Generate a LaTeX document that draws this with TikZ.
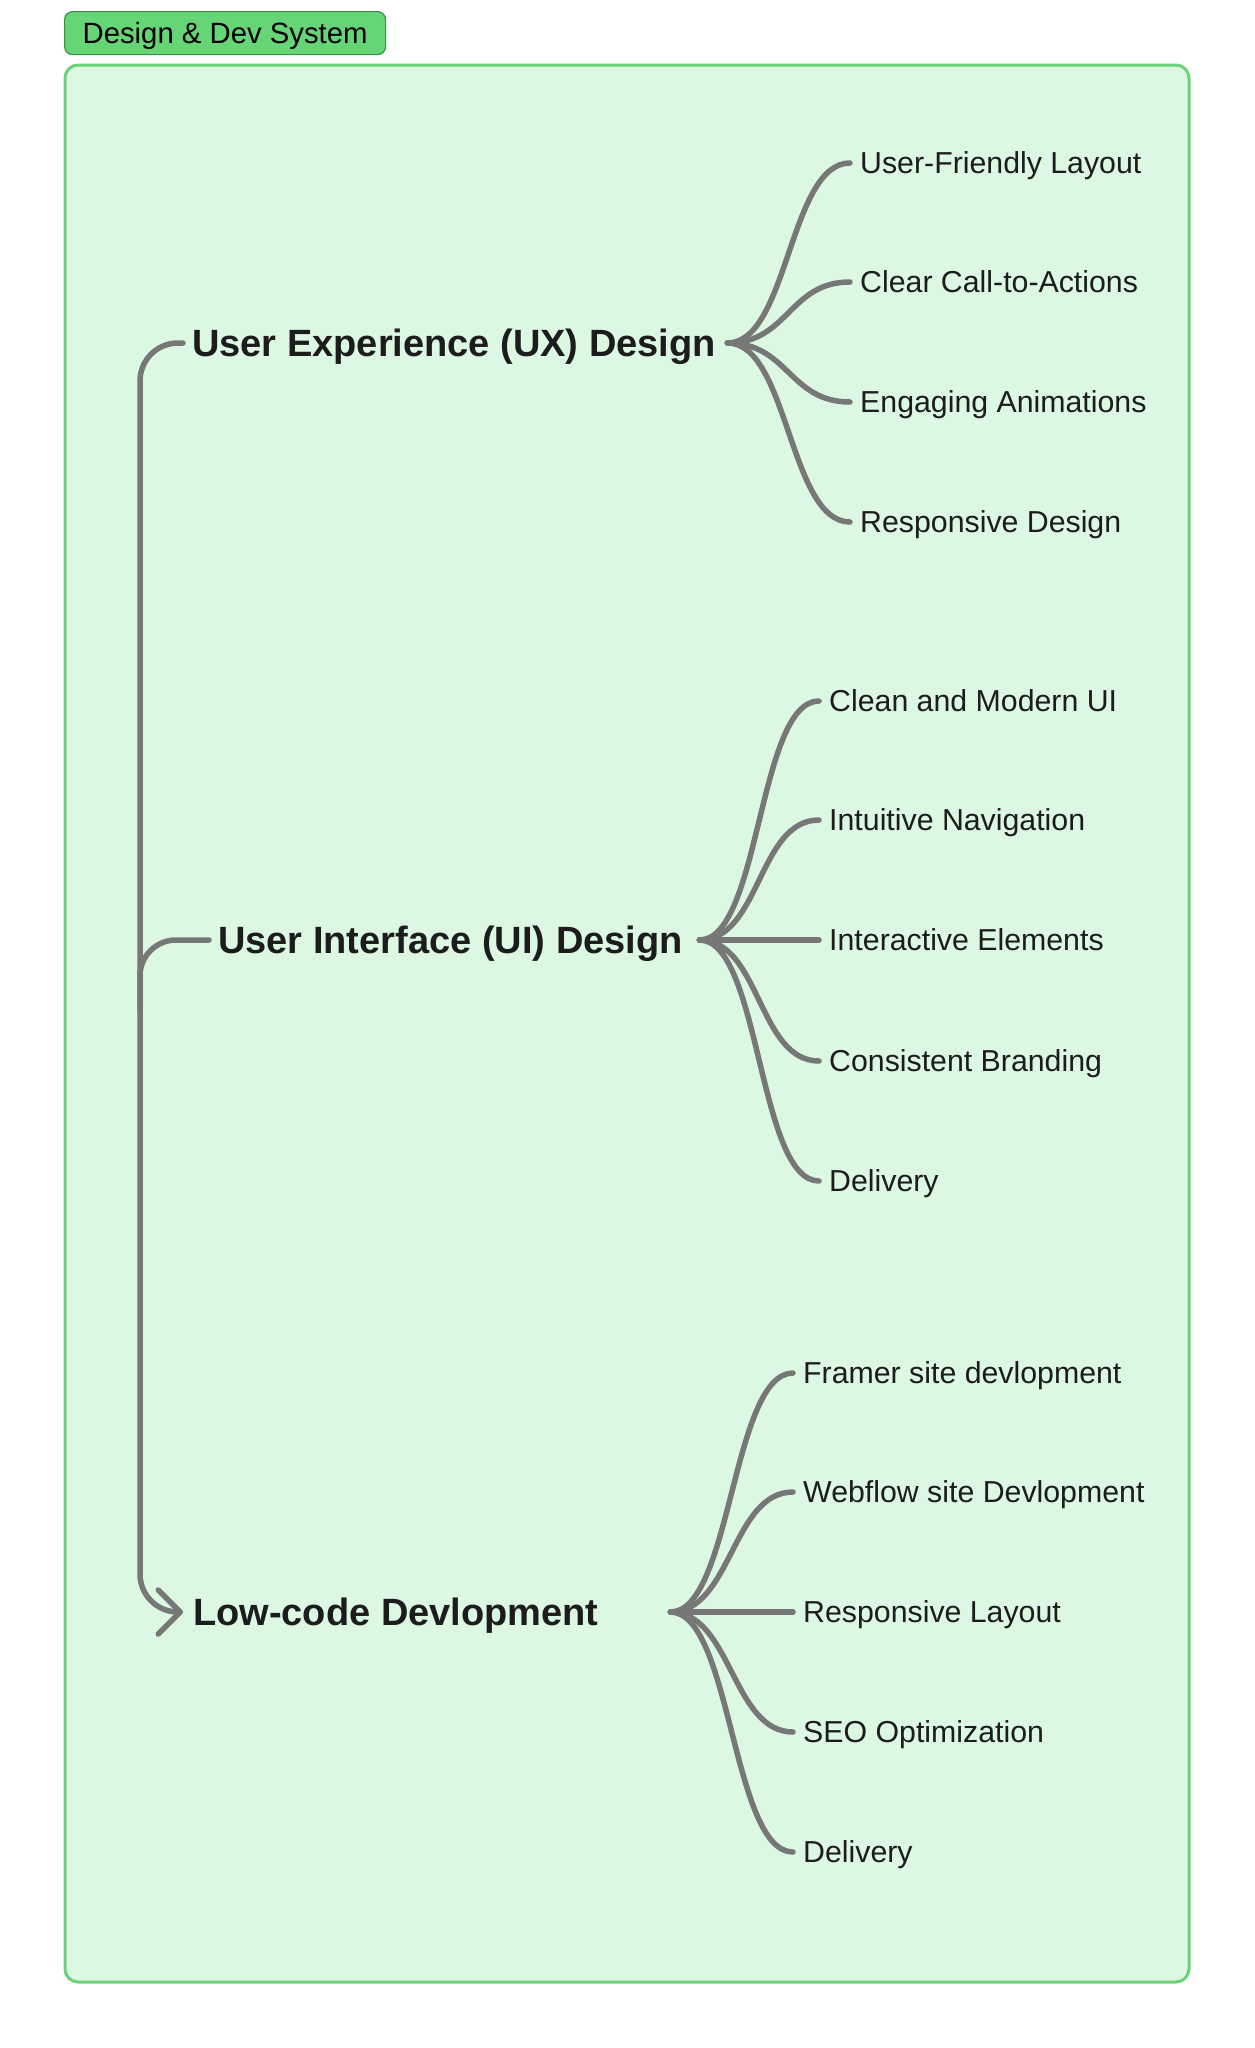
\documentclass[tikz,border=0pt]{standalone}
\usepackage{fontspec}
\setmainfont{Liberation Sans}
\usetikzlibrary{arrows.meta}
\definecolor{boxfill}{HTML}{DCF7E2}
\definecolor{boxline}{HTML}{6AD37A}
\definecolor{tagfill}{HTML}{66D575}
\definecolor{tagline}{HTML}{3E8E49}
\definecolor{conncol}{HTML}{777777}
\definecolor{txt}{HTML}{1C1C1C}
\tikzset{
  conn/.style={draw=conncol, line width=5.5pt, line cap=round, line join=round},
  topic/.style={anchor=west, inner xsep=9pt, inner ysep=0pt, text=txt, text height=27.2pt, text depth=0pt,
                font=\fontsize{38}{44}\selectfont\bfseries},
  leaf/.style={anchor=west, inner xsep=10pt, inner ysep=0pt, text=txt, text height=21.7pt, text depth=0pt,
               font=\fontsize{30.3}{34}\selectfont},
}
\newcommand{\fan}[2]{\draw[conn] (#1) .. controls +(61,0) and +(-61,0) .. (#2.west);}
\begin{document}
\begin{tikzpicture}[x=1pt,y=-1pt]
\useasboundingbox (0,0) rectangle (1254,2048);
\fill[white] (0,0) rectangle (1254,2048);
% container
\draw[fill=boxfill, draw=boxline, line width=3pt, rounded corners=13pt] (65,65) rectangle (1189,1982);
\node[anchor=north west, draw=tagline, fill=tagfill, line width=1.2pt, rounded corners=8pt,
      minimum width=321pt, minimum height=43pt, inner sep=0pt, text=black, text height=21pt, text depth=0pt,
      font=\fontsize{29.3}{34}\selectfont] (tag) at (64,11) {Design \& Dev System};
% topics
\node[topic] (ux) at (183,343) {\makebox[526pt][l]{User Experience (UX) Design}};
\node[topic] (ui) at (209,940) {\makebox[472pt][l]{User Interface (UI) Design}};
\node[topic, inner xsep=10pt] (lc) at (183,1612) {\makebox[467pt][l]{Low-code Devlopment}};
% left bracket
\draw[conn, rounded corners=38pt, -{Straight Barb[length=22pt, width=44pt, line cap=round, line join=round]}]
  (ux.west) -| (140,1612) -- (lc.west);
\draw[conn, rounded corners=36pt] (140,1010) |- (ui.west);
% UX children
\node[leaf] (u1) at (850,163) {User-Friendly Layout};
\node[leaf] (u2) at (850,282) {Clear Call-to-Actions};
\node[leaf] (u3) at (850,402) {Engaging Animations};
\node[leaf] (u4) at (850,522) {Responsive Design};
\foreach \c in {u1,u2,u3,u4} {\fan{ux.east}{\c}}
% UI children
\node[leaf] (i1) at (819,701) {Clean and Modern UI};
\node[leaf] (i2) at (819,820) {Intuitive Navigation};
\node[leaf] (i3) at (819,940) {Interactive Elements};
\node[leaf] (i4) at (819,1061) {Consistent Branding};
\node[leaf] (i5) at (819,1181) {Delivery};
\foreach \c in {i1,i2,i3,i4,i5} {\fan{ui.east}{\c}}
% Low-code children
\node[leaf] (l1) at (793,1373) {Framer site devlopment};
\node[leaf] (l2) at (793,1492) {Webflow site Devlopment};
\node[leaf] (l3) at (793,1612) {Responsive Layout};
\node[leaf] (l4) at (793,1732) {SEO Optimization};
\node[leaf] (l5) at (793,1852) {Delivery};
\foreach \c in {l1,l2,l3,l4,l5} {\fan{lc.east}{\c}}
\end{tikzpicture}
\end{document}
